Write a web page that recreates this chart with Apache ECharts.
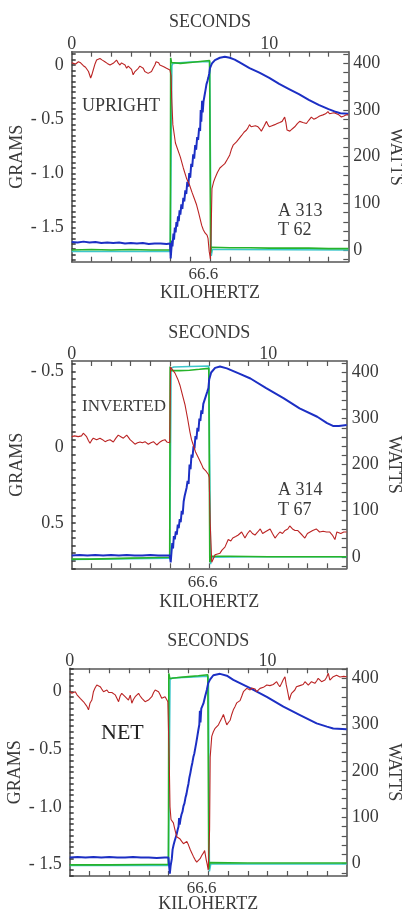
<!DOCTYPE html>
<html><head><meta charset="utf-8">
<script src="https://cdn.jsdelivr.net/npm/echarts@6/dist/echarts.min.js"></script>
<style>html,body{margin:0;padding:0;background:#fff}#c{width:402px;height:916px}</style>
</head><body><div id="c"></div><script>
// ---------- DATA (t = seconds) ----------
const secLabels = [0, 10];
const khzLabel = '66.6';
const khzPos = 6.67;
const wattLabels = [0, 100, 200, 300, 400];
const gramLabels1 = [0, -0.5, -1.0, -1.5];
const gramLabels2 = [-0.5, 0, 0.5];
const gramLabels3 = [0, -0.5, -1.0, -1.5];
const titles = ['UPRIGHT', 'INVERTED', 'NET'];
const notesA = ['A 313', 'A 314', ''];
const notesT = ['T 62', 'T 67', ''];

// Panel 1 (UPRIGHT) grams
const red1 = [[0,0.02],[0.09,0.016],[0.2,0.01],[0.34,0.03],[0.45,0.02],[0.59,-0.006],[0.7,-0.02],[0.85,-0.06],[0.96,-0.12],[1.02,-0.09],[1.09,-0.046],[1.18,0.01],[1.26,0.046],[1.35,0.04],[1.43,0.06],[1.55,0.045],[1.68,0.03],[1.8,0.015],[1.94,0],[2.02,0.01],[2.1,0.016],[2.18,0.03],[2.27,0.046],[2.35,0.02],[2.44,0],[2.52,0.02],[2.61,0.03],[2.7,0.0],[2.78,-0.03],[2.86,-0.01],[2.95,0],[3.03,-0.04],[3.11,-0.09],[3.2,-0.06],[3.28,-0.05],[3.37,-0.03],[3.45,-0.01],[3.54,0],[3.62,-0.03],[3.7,-0.06],[3.78,-0.07],[3.87,-0.077],[3.95,-0.07],[4.04,-0.06],[4.12,-0.03],[4.21,0],[4.27,0.03],[4.32,0.046],[4.4,0.02],[4.46,0],[4.56,-0.01],[4.66,-0.015],[4.73,-0.02],[4.8,-0.03],[4.9,-0.04],[4.97,-0.046],[5.0,-0.06],[5.03,-0.1],[5.06,-0.3],[5.12,-0.55],[5.25,-0.72],[5.5,-0.85],[5.65,-0.95],[5.82,-1.05],[5.95,-1.1],[6.1,-1.18],[6.2,-1.23],[6.32,-1.29],[6.42,-1.36],[6.5,-1.42],[6.58,-1.48],[6.66,-1.52],[6.75,-1.55],[6.85,-1.57],[6.9,-1.6],[6.96,-1.72],[7.02,-1.79],[7.05,-1.6],[7.1,-1.14],[7.18,-1.08],[7.25,-1.045],[7.38,-0.99],[7.5,-0.95],[7.62,-0.93],[7.75,-0.91],[7.88,-0.87],[8.0,-0.83],[8.08,-0.78],[8.17,-0.74],[8.25,-0.73],[8.34,-0.71],[8.47,-0.68],[8.6,-0.65],[8.72,-0.62],[8.85,-0.6],[8.92,-0.58],[9.0,-0.55],[9.08,-0.57],[9.18,-0.57],[9.3,-0.56],[9.43,-0.57],[9.52,-0.59],[9.6,-0.61],[9.72,-0.57],[9.86,-0.52],[9.93,-0.55],[10.0,-0.57],[10.14,-0.56],[10.28,-0.55],[10.4,-0.54],[10.53,-0.53],[10.65,-0.52],[10.78,-0.48],[10.84,-0.53],[10.9,-0.6],[11.04,-0.61],[11.16,-0.59],[11.29,-0.57],[11.42,-0.54],[11.54,-0.52],[11.7,-0.53],[11.88,-0.54],[12.0,-0.51],[12.13,-0.48],[12.25,-0.5],[12.38,-0.49],[12.55,-0.47],[12.72,-0.46],[12.85,-0.45],[12.97,-0.43],[13.05,-0.45],[13.13,-0.46],[13.27,-0.44],[13.4,-0.45],[13.52,-0.46],[13.65,-0.48],[13.78,-0.47],[13.9,-0.46],[14,-0.46]];
// Panel 1 watts
const blue1 = [[0,17],[0.3,16],[0.6,18],[0.9,16],[1.2,17],[1.5,15],[1.8,16],[2.1,15],[2.4,16],[2.7,14],[3.0,15],[3.3,14],[3.6,15],[3.9,13],[4.2,14],[4.5,14],[4.8,13],[4.98,14],[5.01,-18],[5.05,5],[5.08,20],[5.1,8],[5.15,35],[5.18,22],[5.22,48],[5.26,38],[5.3,60],[5.34,50],[5.38,72],[5.42,62],[5.46,85],[5.5,76],[5.55,98],[5.6,88],[5.65,112],[5.7,104],[5.75,128],[5.8,120],[5.85,146],[5.9,136],[5.95,165],[6.0,155],[6.05,185],[6.1,178],[6.15,205],[6.2,196],[6.25,225],[6.3,215],[6.35,242],[6.4,236],[6.45,262],[6.5,255],[6.53,300],[6.56,275],[6.6,320],[6.63,295],[6.67,318],[6.72,330],[6.77,342],[6.82,355],[6.87,362],[6.92,370],[6.96,378],[7.0,390],[7.1,400],[7.25,407],[7.5,412],[7.75,414],[8.0,412],[8.25,408],[8.5,402],[9.0,390],[9.5,380],[10,369],[10.5,356],[11,345],[11.5,334],[12,322],[12.5,311],[13,302],[13.3,297],[13.6,293],[14,292]];
const green1 = [[0,0],[1,1],[2,0],[3,1],[4,0],[4.99,0],[5.01,412],[5.05,402],[5.1,399],[5.5,400],[6.0,402],[6.5,404],[6.98,406],[7.0,404],[7.03,-6],[7.07,6],[8,5],[9,5],[10,4],[11,4],[12,4],[13,3],[14,3]];
const cyan1 = [[0,-3],[4.99,-3],[5.01,0],[5.07,395],[5.12,400],[6,403],[6.98,404],[7.01,402],[7.06,-13],[7.12,1],[8,1],[14,0]];

// Panel 2 (INVERTED) grams
const red2 = [[0,-0.07],[0.05,-0.07],[0.15,-0.075],[0.25,-0.08],[0.33,-0.07],[0.42,-0.06],[0.5,-0.075],[0.59,-0.093],[0.67,-0.08],[0.76,-0.07],[0.85,-0.045],[0.93,-0.026],[1.01,-0.045],[1.1,-0.06],[1.18,-0.055],[1.27,-0.05],[1.35,-0.055],[1.44,-0.06],[1.57,-0.05],[1.7,-0.037],[1.82,-0.045],[1.95,-0.05],[2.04,-0.045],[2.12,-0.035],[2.25,-0.06],[2.37,-0.08],[2.5,-0.07],[2.63,-0.06],[2.72,-0.07],[2.8,-0.08],[2.89,-0.065],[2.97,-0.05],[3.1,-0.035],[3.22,-0.02],[3.35,-0.03],[3.48,-0.035],[3.6,-0.03],[3.73,-0.037],[3.82,-0.028],[3.9,-0.02],[4.03,-0.03],[4.16,-0.037],[4.25,-0.025],[4.33,-0.015],[4.42,-0.025],[4.5,-0.035],[4.62,-0.045],[4.75,-0.05],[4.84,-0.035],[4.92,-0.026],[4.99,-0.03],[5.03,-0.53],[5.1,-0.52],[5.26,-0.49],[5.4,-0.45],[5.51,-0.41],[5.65,-0.34],[5.77,-0.28],[5.9,-0.19],[6.02,-0.1],[6.1,-0.05],[6.19,-0.015],[6.3,0.03],[6.45,0.07],[6.6,0.11],[6.7,0.14],[6.85,0.16],[6.96,0.18],[7.0,0.2],[7.05,0.5],[7.13,0.76],[7.2,0.74],[7.3,0.71],[7.4,0.72],[7.55,0.7],[7.65,0.68],[7.8,0.66],[7.97,0.61],[8.1,0.62],[8.2,0.6],[8.35,0.59],[8.48,0.58],[8.65,0.56],[8.82,0.6],[8.95,0.57],[9.08,0.55],[9.2,0.57],[9.33,0.58],[9.47,0.56],[9.6,0.54],[9.72,0.57],[9.84,0.56],[9.97,0.55],[10.1,0.54],[10.22,0.57],[10.35,0.6],[10.47,0.58],[10.6,0.56],[10.73,0.57],[10.86,0.55],[11.0,0.54],[11.1,0.52],[11.24,0.54],[11.37,0.55],[11.5,0.55],[11.6,0.56],[11.73,0.58],[11.87,0.6],[12.0,0.57],[12.1,0.56],[12.27,0.55],[12.45,0.54],[12.62,0.56],[12.8,0.555],[12.97,0.56],[13.13,0.56],[13.27,0.58],[13.4,0.61],[13.5,0.56],[13.7,0.57],[13.85,0.56],[14,0.56]];
const blue2 = [[0,3],[0.4,4],[0.8,3],[1.2,4],[1.6,3],[2.0,4],[2.4,3],[2.8,4],[3.2,3],[3.6,3],[4.0,4],[4.4,3],[4.8,3],[4.99,3],[5.04,-12],[5.08,10],[5.12,30],[5.16,18],[5.2,45],[5.25,38],[5.3,55],[5.35,48],[5.4,70],[5.45,62],[5.5,82],[5.55,75],[5.6,100],[5.65,92],[5.7,120],[5.75,132],[5.8,128],[5.85,150],[5.9,165],[5.95,158],[6.0,200],[6.05,190],[6.1,222],[6.15,215],[6.2,240],[6.25,235],[6.3,262],[6.35,255],[6.4,280],[6.45,272],[6.5,300],[6.55,295],[6.6,318],[6.65,310],[6.7,332],[6.8,345],[6.9,358],[6.96,366],[7.0,385],[7.1,400],[7.3,410],[7.55,413],[7.9,409],[8.5,398],[9.1,387],[9.9,366],[10.8,344],[11.6,322],[12.5,304],[13.0,290],[13.3,284],[13.6,284],[14,286]];
const green2 = [[0,-5],[1,-5],[2,-4],[3,-3],[4,-2],[4.99,-1],[5.01,413],[5.05,404],[5.5,404],[6,405],[6.5,407],[6.98,409],[7.0,405],[7.03,-12],[7.08,1],[8,1],[10,0],[12,0],[14,0]];
const cyan2 = [[0,-6],[4.99,-3],[5.02,0],[5.06,410],[5.2,412],[6,413],[6.98,414],[7.01,410],[7.07,-16],[7.14,-1],[9,0],[14,0]];

// Panel 3 (NET) grams
const red3 = [[0,0.0],[0.11,-0.017],[0.2,-0.01],[0.28,-0.003],[0.37,-0.03],[0.45,-0.046],[0.53,-0.06],[0.61,-0.075],[0.7,-0.09],[0.78,-0.1],[0.87,-0.13],[0.95,-0.16],[1.03,-0.1],[1.12,-0.075],[1.2,-0.003],[1.28,0.03],[1.37,0.055],[1.45,0.05],[1.54,0.041],[1.62,0.02],[1.71,-0.003],[1.8,0.01],[1.88,0.012],[1.97,-0.01],[2.05,-0.017],[2.13,-0.01],[2.21,-0.003],[2.3,-0.03],[2.38,-0.046],[2.47,-0.089],[2.55,-0.04],[2.63,-0.017],[2.72,-0.03],[2.8,-0.046],[2.88,-0.06],[2.97,-0.075],[3.06,-0.032],[3.14,-0.103],[3.22,-0.07],[3.31,-0.046],[3.4,-0.03],[3.48,-0.017],[3.56,-0.04],[3.65,-0.06],[3.73,-0.075],[3.81,-0.089],[3.9,-0.08],[3.98,-0.075],[4.07,-0.06],[4.15,-0.046],[4.24,-0.01],[4.32,0.012],[4.4,0.0],[4.49,-0.003],[4.57,-0.03],[4.65,-0.06],[4.74,-0.05],[4.82,-0.046],[4.9,-0.07],[4.96,-0.089],[5.0,-0.1],[5.03,-0.6],[5.07,-1.0],[5.12,-1.11],[5.24,-1.14],[5.32,-1.2],[5.41,-1.26],[5.5,-1.27],[5.58,-1.28],[5.66,-1.3],[5.75,-1.32],[5.83,-1.31],[5.92,-1.3],[6.0,-1.33],[6.09,-1.37],[6.17,-1.4],[6.25,-1.43],[6.34,-1.46],[6.42,-1.48],[6.5,-1.47],[6.59,-1.45],[6.68,-1.42],[6.76,-1.4],[6.82,-1.38],[6.87,-1.37],[6.9,-1.46],[6.95,-1.5],[7.0,-1.55],[7.03,-1.56],[7.07,-1.2],[7.1,-0.57],[7.18,-0.39],[7.26,-0.35],[7.35,-0.32],[7.43,-0.31],[7.52,-0.29],[7.6,-0.26],[7.69,-0.23],[7.77,-0.2],[7.86,-0.25],[7.94,-0.29],[8.02,-0.27],[8.11,-0.25],[8.19,-0.2],[8.27,-0.16],[8.36,-0.13],[8.44,-0.1],[8.52,-0.09],[8.61,-0.08],[8.7,-0.04],[8.78,-0.003],[8.87,0.01],[8.95,0.026],[9.03,0.02],[9.12,0.012],[9.2,0.03],[9.28,0.04],[9.37,0.02],[9.45,-0.003],[9.53,0.01],[9.62,0.026],[9.7,0.03],[9.79,0.035],[9.87,0.04],[9.96,0.055],[10.04,0.07],[10.12,0.05],[10.21,0.04],[10.29,0.06],[10.37,0.075],[10.46,0.084],[10.54,0.06],[10.62,0.04],[10.71,0.07],[10.79,0.1],[10.88,0.127],[10.94,0.06],[11.0,0.012],[11.1,-0.075],[11.16,-0.04],[11.21,-0.017],[11.3,0.0],[11.38,0.012],[11.46,0.04],[11.55,0.055],[11.63,0.05],[11.72,0.041],[11.8,0.06],[11.89,0.084],[11.97,0.07],[12.06,0.055],[12.14,0.07],[12.22,0.084],[12.31,0.075],[12.39,0.07],[12.48,0.09],[12.56,0.113],[12.64,0.1],[12.73,0.084],[12.81,0.09],[12.9,0.098],[12.98,0.12],[13.07,0.157],[13.15,0.098],[13.24,0.11],[13.32,0.127],[13.4,0.13],[13.49,0.14],[13.57,0.13],[13.66,0.125],[13.75,0.127],[13.85,0.13],[14,0.127]];
const blue3 = [[0,13],[0.4,14],[0.8,13],[1.2,14],[1.6,13],[2.0,14],[2.4,13],[2.8,13],[3.2,14],[3.6,13],[4.0,13],[4.4,12],[4.8,13],[4.99,13],[5.06,-22],[5.1,-5],[5.16,10],[5.2,30],[5.25,40],[5.3,48],[5.35,55],[5.4,62],[5.45,72],[5.5,80],[5.53,98],[5.56,84],[5.6,96],[5.65,106],[5.7,112],[5.75,124],[5.8,130],[5.85,142],[5.9,150],[5.95,162],[6.0,172],[6.05,186],[6.1,196],[6.15,208],[6.2,218],[6.25,230],[6.3,238],[6.35,250],[6.4,262],[6.45,275],[6.5,288],[6.55,300],[6.58,330],[6.61,305],[6.65,335],[6.7,334],[6.76,346],[6.85,362],[6.93,375],[7.0,390],[7.1,398],[7.26,407],[7.6,410],[7.94,406],[8.27,397],[9.12,379],[9.96,360],[10.8,339],[11.64,321],[12.48,303],[13.0,296],[13.32,292],[14,290]];
const green3 = [[0,-3],[2,-3],[4,-2],[4.99,-2],[5.01,411],[5.06,400],[5.5,402],[6,404],[6.5,406],[6.98,408],[7.0,405],[7.03,-12],[7.08,2],[9,1],[11,1],[14,1]];
const cyan3 = [[0,-4],[4.99,-4],[5.02,0],[5.07,398],[5.2,401],[6,403],[6.98,405],[7.01,400],[7.06,-17],[7.13,-1],[10,-1],[14,-1]];

// ---------- LAYOUT / STYLE ----------
const FONT = '"Liberation Serif","Times New Roman",serif';
const TXT = '#3a3a3a';
const AX = '#555';
const panels = [
  {left:71.7, top:51.7, width:276.6, height:210, gMin:-1.815, gMax:0.123, inv:false, wMin:-25, wMax:425,
   gLabels:gramLabels1, red:red1, blue:blue1, green:green1, cyan:cyan1, secGap:20, khzGap:23, khzMargin:4, gGap:45, wGap:38,
   title:{x:82, y:106, size:18, color:TXT}, note:{x:278, y1:211, y2:230}},
  {left:71.7, top:361, width:275, height:207.3, gMin:-0.57, gMax:0.8, inv:true, wMin:-25, wMax:425,
   gLabels:gramLabels2, red:red2, blue:blue2, green:green2, cyan:cyan2, secGap:19, khzGap:25, khzMargin:6, gGap:45, wGap:38,
   title:{x:82, y:407, size:17, color:TXT}, note:{x:278, y1:490, y2:510}},
  {left:69.7, top:668.3, width:277, height:207.7, gMin:-1.6, gMax:0.2, inv:false, wMin:-27, wMax:422,
   gLabels:gramLabels3, red:red3, blue:blue3, green:green3, cyan:cyan3, secGap:18, khzGap:19, khzMargin:4, gGap:45, wGap:38,
   title:{x:101, y:733, size:22, color:'#222'}, note:null}
];
function range(a, b, s){ const r=[]; for(let v=a; v<=b+1e-9; v+=s) r.push(Math.round(v*1000)/1000); return r; }
function fmtG(v){ if (Math.abs(v) < 1e-9) return '0'; return v < 0 ? '- ' + Math.abs(v).toFixed(1) : v.toFixed(1); }
const txtStyle = (size) => ({color:TXT, fontFamily:FONT, fontSize:size});

const grid=[], xAxis=[], yAxis=[], series=[], graphic=[];
panels.forEach((P, i) => {
  grid.push({left:P.left, top:P.top, width:P.width, height:P.height, outerBoundsMode:'none'});
  const lineSt = {show:true, onZero:false, lineStyle:{color:AX, width:1.6}};
  const tickSt = {color:AX, width:1.2};
  xAxis.push({type:'value', gridIndex:i, position:'bottom', min:0, max:14, nameMoveOverlap:false,
    axisLine:lineSt, splitLine:{show:false},
    axisTick:{show:true, inside:true, length:5, customValues:range(1,13,1), lineStyle:tickSt},
    axisLabel:{show:true, customValues:[khzPos], formatter:()=>khzLabel, margin:P.khzMargin, ...txtStyle(17)},
    name:'KILOHERTZ', nameLocation:'middle', nameGap:P.khzGap, nameTextStyle:txtStyle(18)});
  xAxis.push({type:'value', gridIndex:i, position:'top', min:0, max:14, nameMoveOverlap:false,
    axisLine:lineSt, splitLine:{show:false},
    axisTick:{show:true, inside:true, length:5, customValues:range(1,13,1), lineStyle:tickSt},
    axisLabel:{show:true, customValues:secLabels, formatter:(v)=>String(v), margin:-2, ...txtStyle(18)},
    name:'SECONDS', nameLocation:'middle', nameGap:P.secGap, nameTextStyle:txtStyle(18)});
  const gStart = Math.ceil(P.gMin/0.05)*0.05;
  yAxis.push({type:'value', gridIndex:i, position:'left', min:P.gMin, max:P.gMax, inverse:P.inv, nameMoveOverlap:false,
    axisLine:lineSt, splitLine:{show:false},
    axisTick:{show:true, inside:true, length:4, customValues:range(gStart, P.gMax, 0.05), lineStyle:{color:'#333', width:1.5}},
    axisLabel:{show:true, customValues:P.gLabels, formatter:fmtG, margin:8, ...txtStyle(18)},
    name:'GRAMS', nameLocation:'middle', nameGap:P.gGap, nameTextStyle:txtStyle(18)});
  yAxis.push({type:'value', gridIndex:i, position:'right', min:P.wMin, max:P.wMax, nameMoveOverlap:false,
    axisLine:lineSt, splitLine:{show:false},
    axisTick:{show:true, inside:true, length:5, customValues:range(-20, 420, 20).filter(v=>v>P.wMin && v<P.wMax), lineStyle:tickSt},
    axisLabel:{show:true, customValues:wattLabels, margin:5, ...txtStyle(18)},
    name:'WATTS', nameLocation:'middle', nameRotate:-90, nameGap:P.wGap, nameTextStyle:txtStyle(18)});
  const mk = (data, color, width, yi, z) => ({type:'line', data, xAxisIndex:2*i, yAxisIndex:2*i+yi,
    showSymbol:false, symbol:'none', lineStyle:{color, width}, z, silent:true, animation:false});
  series.push(mk(P.cyan, '#3cc6cc', 1.6, 1, 2));
  series.push(mk(P.green, '#27b32a', 1.6, 1, 3));
  series.push(mk(P.blue, '#1c2fc4', 2, 1, 4));
  series.push(mk(P.red, '#bb2424', 1.1, 0, 5));
  graphic.push({type:'text', x:P.title.x, y:P.title.y, style:{text:titles[i], font:`${P.title.size}px ${FONT}`, fill:P.title.color, verticalAlign:'middle', align:'left'}});
  if (P.note) {
    graphic.push({type:'text', x:P.note.x, y:P.note.y1, style:{text:notesA[i], font:`18px ${FONT}`, fill:TXT, verticalAlign:'middle', align:'left'}});
    graphic.push({type:'text', x:P.note.x, y:P.note.y2, style:{text:notesT[i], font:`18px ${FONT}`, fill:TXT, verticalAlign:'middle', align:'left'}});
  }
});

const chart = echarts.init(document.getElementById('c'), null, {renderer:'canvas'});
chart.setOption({animation:false, backgroundColor:'#fff', grid, xAxis, yAxis, series, graphic});
</script></body></html>
